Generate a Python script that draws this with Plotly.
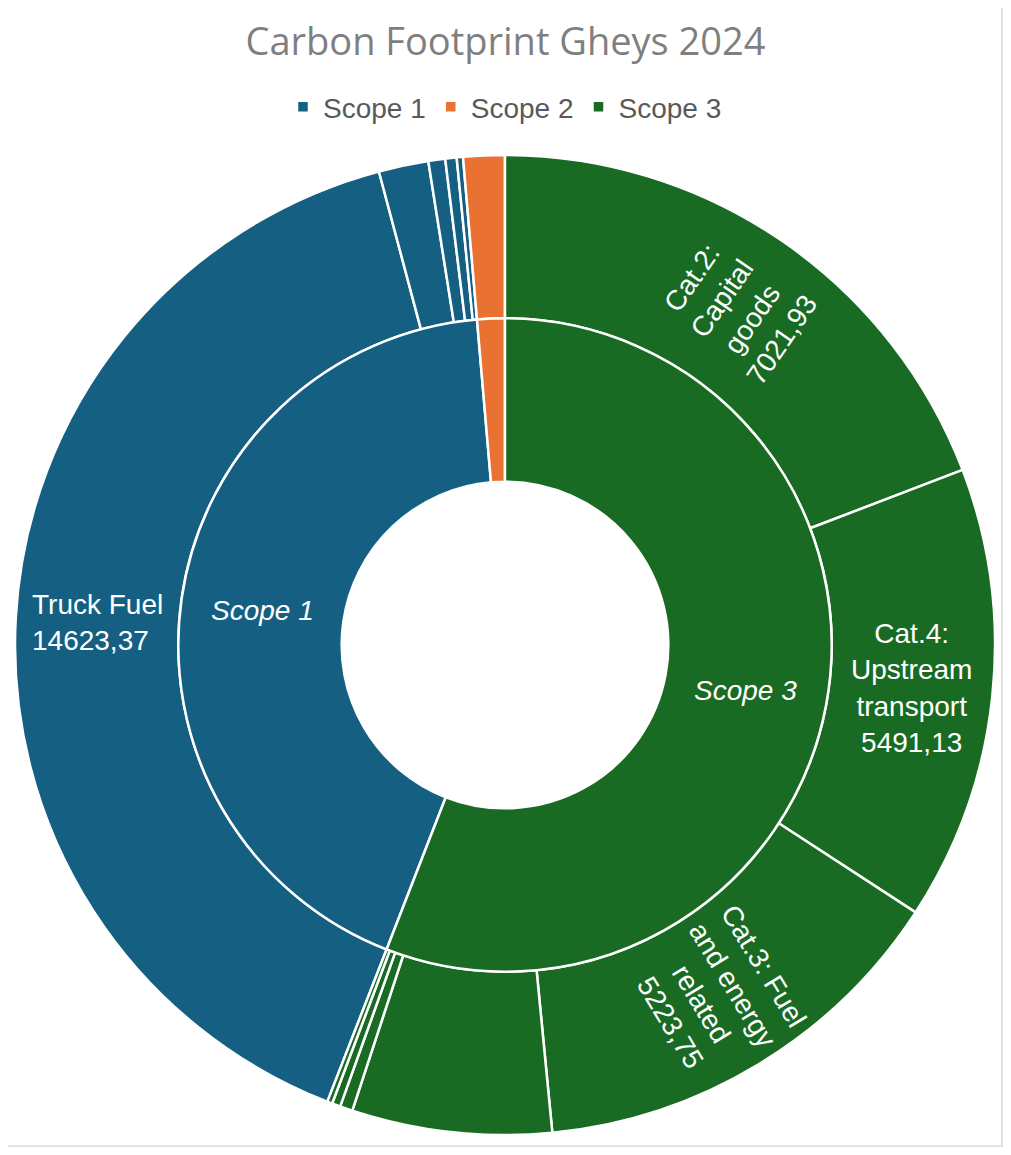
import math
import plotly.graph_objects as go

# ---------------- data ----------------
title_text = "Carbon Footprint Gheys 2024"
scopes = ["Scope 1", "Scope 2", "Scope 3"]

scope1_items = ["Truck Fuel", "Scope 1 – item 2", "Scope 1 – item 3", "Scope 1 – item 4", "Scope 1 – item 5"]
scope1_values = [14623.37, 600, 203, 137, 76]

scope2_items = ["Scope 2 – item 1"]
scope2_values = [500]

scope3_items = ["Cat.2: Capital goods", "Cat.4: Upstream transport", "Cat.3: Fuel and energy related",
                "Scope 3 – item 4", "Scope 3 – item 5", "Scope 3 – item 6", "Scope 3 – item 7"]
scope3_values = [7021.93, 5491.13, 5223.75, 2410, 152, 102, 61]

# ---------------- styles ----------------
scope_colors = {"Scope 1": "#156082", "Scope 2": "#E97132", "Scope 3": "#196B24"}
label_font = "Liberation Sans Narrow, Arial Narrow, Liberation Sans, Arial, sans-serif"
# which slices get a data label, how it is wrapped / oriented / aligned
outer_label_style = {
    "Truck Fuel": ("Truck Fuel<br>{v}", "horizontal", "left"),
    "Cat.2: Capital goods": ("Cat.2:<br>Capital<br>goods<br>{v}", "radial", "center"),
    "Cat.4: Upstream transport": ("Cat.4:<br>Upstream<br>transport<br>{v}", "horizontal", "center"),
    "Cat.3: Fuel and energy related": ("Cat.3: Fuel<br>and energy<br>related<br>{v}", "radial", "center"),
}
inner_labelled = ["Scope 1", "Scope 3"]

def fmt(v):
    return f"{v:.2f}".replace(".", ",")

children = [(scope1_items, scope1_values, "Scope 1"),
            (scope2_items, scope2_values, "Scope 2"),
            (scope3_items, scope3_values, "Scope 3")]

inner_values = [sum(v) for _, v, _ in children]
total = sum(inner_values)
# Scope 1 begins where Scope 3 (drawn clockwise from 12 o'clock) ends
rotation = 360.0 * inner_values[2] / total

outer_labels, outer_values, outer_colors = [], [], []
for items, vals, sc in children:
    outer_labels += items
    outer_values += vals
    outer_colors += [scope_colors[sc]] * len(vals)

# page has an 8px body margin, figure sized to fit inside the window
W, H = 995, 1139
ML, MT = 7, 147
PW = PH = 980
MR = W - ML - PW
MB = H - MT - PH

fig = go.Figure()
line = dict(color="white", width=2.5)
fig.add_trace(go.Pie(
    labels=outer_labels, values=outer_values, sort=False, direction="clockwise",
    rotation=rotation, hole=2 / 3, domain=dict(x=[0, 1], y=[0, 1]),
    marker=dict(colors=outer_colors, line=line), textinfo="none",
    showlegend=False, name="Sources"))
fig.add_trace(go.Pie(
    labels=scopes, values=inner_values, sort=False, direction="clockwise",
    rotation=rotation, hole=0.5, domain=dict(x=[1 / 6, 5 / 6], y=[1 / 6, 5 / 6]),
    marker=dict(colors=[scope_colors[s] for s in scopes], line=line), textinfo="none",
    showlegend=True, name="Scopes"))

annotations = []

def add_label(text, start, span, rfrac, orient, align="center", italic=False):
    mid = start + span / 2.0
    th = math.radians(mid)
    x = 0.5 + 0.5 * rfrac * math.sin(th)
    y = 0.5 + 0.5 * rfrac * math.cos(th)
    ang = 0
    if orient == "radial":
        ang = (mid - 90) % 360
        if ang > 180:
            ang -= 360
        if ang > 90:
            ang -= 180
        if ang < -90:
            ang += 180
    if italic:
        text = "<i>" + text + "</i>"
    annotations.append(dict(x=x, y=y, xref="paper", yref="paper", text=text, showarrow=False,
                            textangle=ang, align=align,
                            font=dict(family=label_font, size=28, color="white"),
                            xanchor="center", yanchor="middle"))

# outer ring labels
ang0 = rotation
for lab, val in zip(outer_labels, outer_values):
    span = 360.0 * val / total
    if lab in outer_label_style:
        tmpl, orient, align = outer_label_style[lab]
        add_label(tmpl.format(v=fmt(val)), ang0, span, (2 / 3 + 1) / 2, orient, align)
    ang0 += span
# inner ring labels
ang0 = rotation
for lab, val in zip(scopes, inner_values):
    span = 360.0 * val / total
    if lab in inner_labelled:
        add_label(lab, ang0, span, 0.5, "horizontal", italic=True)
    ang0 += span

def px_to_paper_x(px):
    return (px - ML) / PW

def px_to_paper_y(py):
    return (H - MB - py) / PH

fig.update_layout(
    width=W, height=H,
    margin=dict(l=ML, r=MR, t=MT, b=MB),
    paper_bgcolor="white", plot_bgcolor="white",
    title=dict(text=title_text, x=0.5, xanchor="center", y=1 - 34 / H, yanchor="middle",
               font=dict(family="Open Sans, Noto Sans, sans-serif", size=38, color="#7F7F7F")),
    legend=dict(orientation="h", x=0.5, xanchor="center", y=px_to_paper_y(99),
                yanchor="middle", font=dict(family=label_font, size=28, color="#595959")),
    annotations=annotations,
    shapes=[dict(type="rect", xref="paper", yref="paper",
                 x0=px_to_paper_x(-5), x1=px_to_paper_x(W - 1),
                 y0=px_to_paper_y(H - 1), y1=px_to_paper_y(-5),
                 line=dict(color="#D9D9D9", width=1.5), fillcolor="rgba(0,0,0,0)", layer="below")],
)

fig.write_html("out.html")
